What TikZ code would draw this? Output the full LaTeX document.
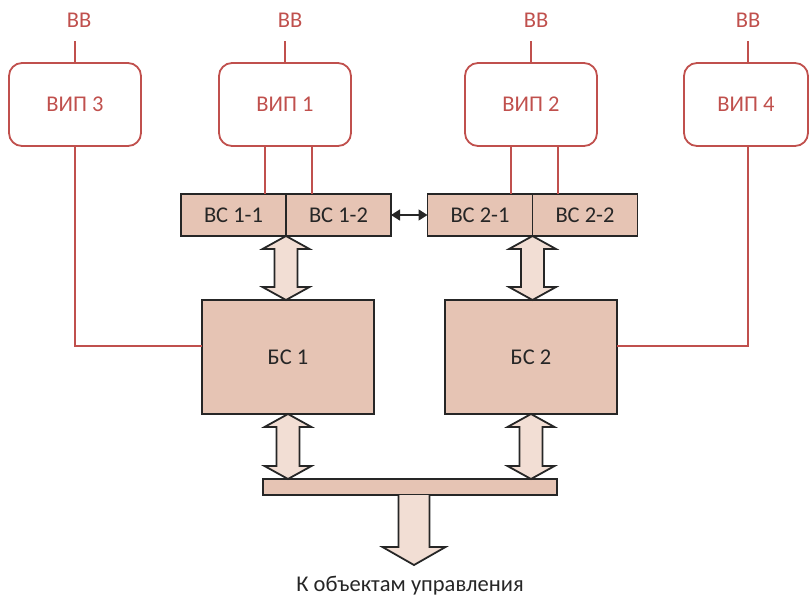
\documentclass[tikz,border=0pt]{standalone}
\usepackage{fontspec}
\setmainfont{Carlito}
\usepackage{xcolor}
\usepackage{tikz}
\usetikzlibrary{arrows.meta,positioning,calc}
\definecolor{vipred}{HTML}{C0504D}
\definecolor{bsfill}{HTML}{E6C4B4}
\definecolor{arrfill}{HTML}{F2DED4}
\definecolor{darkline}{HTML}{262626}

\begin{document}
\begin{tikzpicture}[x=1pt,y=-1pt,
  every node/.style={font=\fontsize{22.5}{27}\selectfont},
  vip/.style={draw=vipred,line width=1.8pt,rounded corners=13pt,text=vipred,minimum width=132pt,minimum height=83pt,outer sep=0pt},
  vv/.style={text=vipred},
  vipline/.style={draw=vipred,line width=1.3pt},
  bc/.style={draw=darkline,fill=bsfill,line width=1.8pt,text=darkline,minimum width=105pt,minimum height=42pt,outer sep=0pt},
  bs/.style={draw=darkline,fill=bsfill,line width=1.8pt,text=darkline,minimum width=172pt,minimum height=114pt,outer sep=0pt},
  arrbox/.style={draw=darkline,fill=arrfill,line width=1.8pt,line join=miter}]
\useasboundingbox (0,0) rectangle (809,598);
% power units
\node[vip] (vip3) at (75,104.5) {ВИП 3};
\node[vip] (vip1) at (285,104.5) {ВИП 1};
\node[vip] (vip2) at (531,104.5) {ВИП 2};
\node[vip,minimum width=124pt] (vip4) at (746,104.5) {ВИП 4};
\node[vv] (vv3) at (79,20) {ВВ};
\node[vv] (vv1) at (290,20) {ВВ};
\node[vv] (vv2) at (536,20) {ВВ};
\node[vv] (vv4) at (748,20) {ВВ};
\draw[vipline] (vip3.north)--++(0,-22)
 (vip1.north)--++(0,-22)
 (vip2.north)--++(0,-22)
 ([xshift=2pt]vip4.north)--++(0,-22);
% computers
\node[bc] (bc11) at (233.5,215) {ВС 1-1};
\node[bc,right=0pt of bc11] (bc12) {ВС 1-2};
\node[bc] (bc21) at (480,215) {ВС 2-1};
\node[bc,right=0pt of bc21] (bc22) {ВС 2-2};
\draw[vipline] ([xshift=-20pt]vip1.south)--([xshift=-20pt]vip1.south|-bc11.north)
 ([xshift=27pt]vip1.south)--([xshift=27pt]vip1.south|-bc11.north)
 ([xshift=-20pt]vip2.south)--([xshift=-20pt]vip2.south|-bc21.north)
 ([xshift=27pt]vip2.south)--([xshift=27pt]vip2.south|-bc21.north);
\draw[{Triangle[length=9pt,width=11pt]}-{Triangle[length=9pt,width=11pt]},line width=1.6pt,darkline](bc12.east)--(bc21.west);
% switch units
\node[bs] (bs1) at (288,357) {БС 1};
\node[bs] (bs2) at (531,357) {БС 2};
\draw[vipline] (vip3.south)|-([yshift=11pt]bs1.west)
 ([xshift=2pt]vip4.south)|-([yshift=11pt]bs2.east);
\node[draw=darkline,fill=bsfill,line width=1.8pt,minimum width=294pt,minimum height=16pt,inner sep=0pt,outer sep=0pt] (bus) at (410,487) {};
% big arrows
\draw[arrbox](bc11.south east)--++(23.5,13)--++(-12,0)--++(0,38)--++(12,0)--++(-23.5,13)--++(-23.5,-13)--++(12,0)--++(0,-38)--++(-12,0)--cycle;
\draw[arrbox](bc21.south east)--++(23.5,13)--++(-12,0)--++(0,38)--++(12,0)--++(-23.5,13)--++(-23.5,-13)--++(12,0)--++(0,-38)--++(-12,0)--cycle;
\draw[arrbox](bs1.south)--++(23.5,13)--++(-12,0)--++(0,39)--++(12,0)--++(-23.5,13)--++(-23.5,-13)--++(12,0)--++(0,-39)--++(-12,0)--cycle;
\draw[arrbox](bs2.south)--++(23.5,13)--++(-12,0)--++(0,39)--++(12,0)--++(-23.5,13)--++(-23.5,-13)--++(12,0)--++(0,-39)--++(-12,0)--cycle;
\draw[arrbox]([xshift=-11.5pt]bus.south)--++(0,52)--++(-16,0)--++(31.5,18)--++(31.5,-18)--++(-16,0)--++(0,-52);
\node[text=darkline] (obj) at (410,586) {К объектам управления};
\end{tikzpicture}
\end{document}
